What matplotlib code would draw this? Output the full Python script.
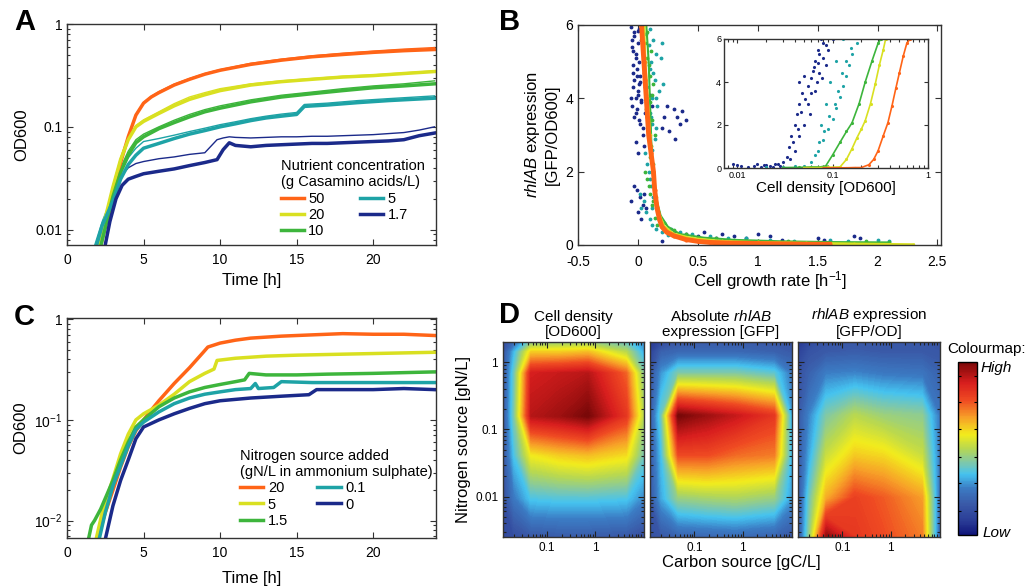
import numpy as np
import matplotlib
matplotlib.use("Agg")
import matplotlib.pyplot as plt
from matplotlib.colors import LinearSegmentedColormap
from matplotlib.ticker import NullFormatter, FixedLocator

plt.rcParams["font.family"] = ["Liberation Sans", "DejaVu Sans"]
plt.rcParams["mathtext.fontset"] = "custom"
plt.rcParams["mathtext.rm"] = "Liberation Sans"
plt.rcParams["mathtext.it"] = "Liberation Sans:italic"
plt.rcParams["axes.unicode_minus"] = False

ORANGE = "#ff6417"
YELLOW = "#d9e021"
GREEN = "#3db53c"
TEAL = "#1ea3a6"
NAVY = "#1b2a8a"

# ---------------- panel A: growth curves, casamino acids ----------------
a_labels = ["50", "20", "10", "5", "1.7"]
a_orange_t = [2.1, 2.5, 3.0, 3.5, 4.0, 4.5, 5.0, 5.5, 6, 7, 8, 9, 10, 12, 14, 16, 18, 20, 22, 24]
a_orange = [0.006, 0.011, 0.022, 0.045, 0.08, 0.13, 0.17, 0.195, 0.215, 0.255, 0.29, 0.325,
            0.355, 0.405, 0.445, 0.48, 0.505, 0.53, 0.55, 0.565]
a_orange_rep = [0.006, 0.011, 0.022, 0.046, 0.082, 0.132, 0.172, 0.198, 0.22, 0.26, 0.295, 0.33,
                0.36, 0.415, 0.455, 0.49, 0.52, 0.545, 0.57, 0.59]
a_yellow_t = [2.0, 2.5, 3.0, 3.5, 4.0, 4.5, 5, 6, 7, 8, 9, 10, 12, 14, 16, 18, 20, 22, 24]
a_yellow = [0.006, 0.013, 0.026, 0.048, 0.075, 0.1, 0.113, 0.135, 0.16, 0.185, 0.205, 0.225,
            0.255, 0.275, 0.29, 0.305, 0.315, 0.33, 0.345]
a_yellow_rep = [0.006, 0.013, 0.027, 0.05, 0.078, 0.103, 0.117, 0.14, 0.168, 0.195, 0.215, 0.235,
                0.262, 0.28, 0.295, 0.31, 0.32, 0.335, 0.35]
a_green_t = [2.1, 2.6, 3.0, 3.5, 4.0, 4.5, 5, 6, 7, 8, 9, 10, 12, 14, 16, 18, 20, 22, 24]
a_green = [0.006, 0.012, 0.021, 0.036, 0.053, 0.07, 0.08, 0.096, 0.11, 0.125, 0.14, 0.152,
           0.175, 0.195, 0.21, 0.225, 0.24, 0.25, 0.262]
a_green_rep = [0.006, 0.013, 0.023, 0.04, 0.058, 0.075, 0.085, 0.1, 0.116, 0.132, 0.147, 0.16,
               0.183, 0.203, 0.218, 0.235, 0.25, 0.262, 0.28]
a_teal_t = [1.8, 2.3, 3.0, 3.5, 4.0, 4.5, 5, 6, 7, 8, 9, 10, 11, 12, 13, 14, 15, 15.5, 17, 19, 21, 24]
a_teal = [0.006, 0.011, 0.019, 0.031, 0.043, 0.053, 0.062, 0.069, 0.077, 0.085, 0.092, 0.1,
          0.107, 0.115, 0.122, 0.127, 0.132, 0.158, 0.163, 0.172, 0.18, 0.19]
a_teal_rep = [0.007, 0.012, 0.022, 0.036, 0.05, 0.062, 0.072, 0.077, 0.083, 0.09, 0.097, 0.105,
              0.112, 0.12, 0.127, 0.133, 0.138, 0.165, 0.17, 0.18, 0.188, 0.2]
a_navy_t = [2.4, 2.8, 3.2, 3.6, 4.0, 4.5, 5, 6, 7, 8, 9, 9.8, 10.2, 10.6, 11, 12, 13, 14, 15,
            16, 17, 18, 19, 20, 21, 22, 23, 24]
a_navy = [0.006, 0.012, 0.02, 0.027, 0.031, 0.033, 0.035, 0.037, 0.039, 0.042, 0.045, 0.048,
          0.06, 0.07, 0.066, 0.064, 0.066, 0.067, 0.068, 0.069, 0.069, 0.07, 0.071, 0.072,
          0.073, 0.075, 0.082, 0.087]
a_navy_rep = [0.006, 0.013, 0.024, 0.034, 0.04, 0.044, 0.046, 0.049, 0.051, 0.054, 0.056, 0.075,
              0.078, 0.08, 0.079, 0.078, 0.079, 0.08, 0.08, 0.081, 0.081, 0.082, 0.083, 0.084,
              0.086, 0.088, 0.093, 0.1]

# ---------------- panel C: growth curves, nitrogen ----------------
c_labels = ["20", "5", "1.5", "0.1", "0"]
c_orange_t = [2.0, 2.5, 3, 3.5, 4, 4.5, 5, 5.5, 6, 7, 8, 8.9, 9.2, 10, 11, 12, 14, 16, 18, 20, 22, 24]
c_orange = [0.0065, 0.012, 0.02, 0.034, 0.054, 0.078, 0.1, 0.125, 0.155, 0.23, 0.33, 0.47,
            0.53, 0.58, 0.62, 0.65, 0.68, 0.7, 0.72, 0.71, 0.71, 0.69]
c_yellow_t = [1.9, 2.3, 3, 3.5, 4, 4.5, 5, 6, 7, 8, 9, 9.6, 9.8, 11, 13, 15, 18, 21, 24]
c_yellow = [0.0065, 0.012, 0.026, 0.046, 0.072, 0.1, 0.115, 0.14, 0.18, 0.24, 0.29, 0.32,
            0.39, 0.41, 0.43, 0.44, 0.45, 0.46, 0.47]
c_green_t = [1.4, 1.6, 1.8, 2.2, 2.6, 3, 3.5, 4, 4.5, 5, 6, 7, 8, 9, 10, 11, 11.6, 11.9, 13,
             15, 17, 20, 22, 24]
c_green = [0.0065, 0.009, 0.01, 0.013, 0.018, 0.025, 0.04, 0.06, 0.085, 0.1, 0.135, 0.165,
           0.19, 0.21, 0.225, 0.24, 0.25, 0.29, 0.28, 0.28, 0.285, 0.29, 0.295, 0.3]
c_teal_t = [2.1, 2.5, 3, 3.5, 4, 4.5, 5, 6, 7, 8, 9, 10, 11, 12, 12.3, 12.5, 13.5, 14, 16, 18, 20, 24]
c_teal = [0.0065, 0.012, 0.022, 0.035, 0.055, 0.08, 0.095, 0.12, 0.145, 0.165, 0.18, 0.19,
          0.2, 0.205, 0.23, 0.205, 0.21, 0.24, 0.235, 0.235, 0.235, 0.235]
c_navy_t = [2.5, 3, 3.5, 4, 4.5, 5, 6, 7, 8, 9, 10, 12, 14, 15.8, 16.3, 18, 20, 22, 24]
c_navy = [0.0065, 0.014, 0.025, 0.04, 0.065, 0.085, 0.1, 0.115, 0.13, 0.145, 0.155, 0.165,
          0.172, 0.178, 0.2, 0.2, 0.2, 0.205, 0.2]

# ---------------- panel B: rhlAB vs growth rate ----------------
b_orange_x = [0.03, 0.04, 0.05, 0.06, 0.07, 0.08, 0.09, 0.11, 0.13, 0.14, 0.16, 0.18, 0.2,
              0.24, 0.3, 0.4, 0.5, 0.6, 0.8, 1.0, 1.2, 1.4, 1.6]
b_orange_y = [6.0, 5.5, 5.0, 4.5, 4.0, 3.5, 3.0, 2.5, 2.0, 1.5, 1.0, 0.7, 0.5, 0.35, 0.25,
              0.15, 0.1, 0.07, 0.05, 0.04, 0.03, 0.02, 0.02]
b_yellow_x = [0.05, 0.06, 0.08, 0.1, 0.13, 0.15, 0.18, 0.22, 0.3, 0.45, 0.7, 1.0, 1.4, 1.8, 2.3]
b_yellow_y = [6.0, 5.0, 4.0, 3.0, 2.0, 1.3, 0.8, 0.5, 0.3, 0.18, 0.1, 0.07, 0.05, 0.03, 0.01]
b_green_x = [0.07, 0.09, 0.1, 0.11, 0.12, 0.15, 0.19, 0.25, 0.35, 0.55, 0.8, 1.2, 1.6, 2.1]
b_green_y = [6.0, 5.0, 4.0, 3.0, 2.0, 1.3, 0.8, 0.5, 0.3, 0.2, 0.14, 0.1, 0.08, 0.07]
b_green_dots_x = [0.08, 0.11, 0.09, 0.13, 0.1, 0.12, 0.14, 0.1, 0.06, 0.09, 0.13, 0.17, 0.22,
                  0.3, 0.4, 0.5, 0.65, 0.8, 1.0, 1.25, 1.5, 1.9, 2.1, 0.06, 0.08, 0.1, 0.12,
                  0.07, 0.09, 0.11, 0.13, 0.08, 0.1, 0.12, 0.14, 0.16]
b_green_dots_y = [5.8, 5.3, 4.9, 4.4, 3.9, 3.4, 3.0, 2.4, 2.0, 1.6, 1.2, 0.9, 0.6, 0.4, 0.3,
                  0.22, 0.18, 0.15, 0.12, 0.1, 0.08, 0.1, 0.08, 5.5, 5.1, 4.6, 4.1, 3.7, 3.2,
                  2.7, 2.2, 1.8, 1.4, 1.1, 0.75, 0.55]
b_teal_x = [0.1, 0.13, 0.2, 0.15, 0.1, 0.14, 0.18, 0.12, 0.16, 0.11, 0.15, 0.09, 0.12, 0.08,
            0.1, 0.02, 0.05, 0.03, 0.12, 0.18, 0.22, 0.28, 0.35, 0.45, 0.6, 0.75, 0.9, 1.1,
            1.3, 1.6, 1.75, 2.0, 2.1, 0.19, 0.21, 0.07, 0.09, 0.11, 0.13, 0.15, 0.08, 0.1,
            0.12, 0.14, 0.06, 0.09, 0.11, 0.13, 0.07, 0.1, 0.12, 0.15, 0.2, 0.25, 0.22]
b_teal_y = [5.9, 5.6, 5.5, 5.2, 4.8, 4.5, 4.2, 4.0, 3.8, 3.5, 3.2, 3.0, 2.6, 2.2, 1.8, 1.4,
            1.2, 1.0, 1.0, 0.8, 0.6, 0.45, 0.35, 0.3, 0.25, 0.2, 0.18, 0.15, 0.12, 0.15, 0.12,
            0.15, 0.1, 5.1, 4.4, 5.75, 5.45, 5.0, 4.7, 4.0, 4.3, 3.6, 3.3, 2.9, 2.5, 2.0, 1.6,
            1.3, 0.9, 0.7, 0.55, 0.45, 0.35, 0.28, 0.42]
b_navy_x = [-0.05, -0.04, -0.03, -0.02, -0.01, 0.0, 0.01, 0.02, -0.04, -0.02, 0.0, 0.03,
            -0.05, -0.03, -0.01, 0.02, 0.04, -0.02, 0.0, 0.05, 0.06, -0.01, 0.02, 0.04, 0.07,
            0.2, 0.24, 0.3, 0.33, 0.35, 0.37, 0.4, 0.31, 0.26, 0.22, -0.06, -0.03, 0.0, 0.03,
            0.05, -0.04, 0.01, 0.06, 0.1, 0.12, 0.25, 0.3, 0.4, 0.5, 0.55, 0.65, 0.7, 0.8,
            0.9, 1.0, 1.1, 1.2, 1.5, 1.55, 1.8, 1.85, 0.2, -0.06, -0.03, 0.0, 0.03, -0.05,
            -0.02, 0.01, 0.04, -0.04, -0.01, 0.02, 0.05, -0.03, 0.0, 0.03, 0.06, -0.02, 0.01,
            0.04, -0.06]
b_navy_y = [5.6, 5.3, 5.8, 5.1, 4.8, 5.5, 5.9, 4.6, 4.3, 4.0, 4.2, 3.9, 3.8, 3.5, 3.7, 3.3,
            3.0, 2.8, 2.5, 2.7, 3.6, 1.5, 1.3, 1.1, 1.0, 3.2, 3.8, 3.7, 3.5, 3.3, 3.65, 3.4,
            2.9, 3.1, 3.5, 1.2, 1.6, 0.9, 0.7, 1.4, 4.7, 4.4, 5.0, 4.1, 3.8, 0.4, 0.35, 0.3,
            0.25, 0.35, 0.2, 0.3, 0.25, 0.2, 0.3, 0.25, 0.15, 0.2, 0.15, 0.25, 0.2, 0.1, 5.95,
            5.7, 5.85, 5.6, 5.4, 5.2, 5.0, 5.3, 4.9, 4.6, 4.45, 4.7, 4.5, 4.1, 3.95, 4.3, 3.6,
            3.4, 3.2, 4.0]

# inset: rhlAB vs cell density
i_navy_x = [0.009, 0.01, 0.011, 0.013, 0.015, 0.018, 0.02, 0.022, 0.025, 0.028, 0.03, 0.033,
            0.035, 0.037, 0.04, 0.042, 0.045, 0.048, 0.045, 0.05, 0.055, 0.06, 0.062, 0.065,
            0.07, 0.075, 0.08, 0.068, 0.058, 0.05, 0.045, 0.04, 0.09, 0.1, 0.085, 0.078,
            0.036, 0.039, 0.043, 0.047, 0.052, 0.056, 0.06, 0.064, 0.07, 0.073, 0.066,
            0.072, 0.079, 0.086, 0.016, 0.019, 0.024, 0.027]
i_navy_y = [0.2, 0.15, 0.1, 0.05, 0.1, 0.05, 0.15, 0.1, 0.2, 0.1, 0.3, 0.5, 1.0, 1.5, 2.0,
            2.5, 3.0, 3.5, 4.0, 4.3, 3.0, 3.5, 4.5, 5.0, 5.5, 6.0, 5.8, 4.0, 2.5, 2.0, 1.5,
            0.8, 5.5, 6.0, 4.8, 4.2, 0.4, 1.2, 1.8, 2.6, 3.2, 3.8, 4.2, 4.7, 4.9, 5.3, 3.6,
            4.4, 5.1, 5.7, 0.2, 0.12, 0.05, 0.18]
i_teal_x = [0.02, 0.03, 0.04, 0.05, 0.06, 0.07, 0.08, 0.09, 0.1, 0.11, 0.12, 0.13, 0.14,
            0.15, 0.16, 0.18, 0.075, 0.085, 0.095, 0.11, 0.13, 0.065, 0.072, 0.082, 0.092,
            0.105, 0.115, 0.125, 0.14, 0.155]
i_teal_y = [0.05, 0.05, 0.1, 0.1, 0.3, 0.8, 1.3, 1.8, 2.3, 2.8, 3.3, 3.8, 4.3, 4.8, 5.3, 5.8,
            2.0, 3.0, 4.0, 5.0, 6.0, 0.6, 1.2, 1.7, 2.4, 3.0, 3.6, 4.4, 5.0, 5.6]
i_green_x = [0.03, 0.045, 0.06, 0.075, 0.085, 0.1, 0.12, 0.14, 0.16, 0.19, 0.22, 0.26, 0.3, 0.32]
i_green_y = [0.02, 0.03, 0.05, 0.05, 0.1, 0.6, 1.2, 1.7, 2.1, 3.0, 4.0, 5.0, 5.8, 6.0]
i_yellow_x = [0.05, 0.07, 0.09, 0.12, 0.14, 0.16, 0.18, 0.2, 0.22, 0.25, 0.28, 0.31, 0.34, 0.36]
i_yellow_y = [0.02, 0.02, 0.03, 0.05, 0.4, 0.9, 1.4, 1.8, 2.2, 3.0, 3.9, 4.8, 5.5, 6.0]
i_orange_x = [0.08, 0.11, 0.14, 0.17, 0.2, 0.24, 0.27, 0.3, 0.34, 0.38, 0.42, 0.46, 0.5,
              0.55, 0.6, 0.65]
i_orange_y = [0.01, 0.01, 0.01, 0.02, 0.02, 0.15, 0.4, 0.8, 1.5, 2.1, 2.9, 3.7, 4.4, 5.2,
              5.8, 6.0]

# ---------------- panel D: carbon x nitrogen maps (relative 0..1) ----------------
carbon = [0.012, 0.021, 0.047, 0.18, 0.7, 4.4, 10.5]
nitrogen = [0.0025, 0.0095, 0.042, 0.16, 0.68, 1.4, 2.0]
d_density = [
    [0.12, 0.14, 0.17, 0.18, 0.18, 0.17, 0.14],
    [0.14, 0.26, 0.36, 0.37, 0.37, 0.36, 0.28],
    [0.15, 0.36, 0.58, 0.62, 0.64, 0.60, 0.40],
    [0.15, 0.42, 0.92, 0.95, 1.00, 0.82, 0.48],
    [0.15, 0.40, 0.88, 0.90, 0.92, 0.75, 0.42],
    [0.15, 0.34, 0.62, 0.62, 0.64, 0.50, 0.32],
    [0.13, 0.22, 0.42, 0.44, 0.45, 0.38, 0.28],
]
d_gfp = [
    [0.15, 0.17, 0.20, 0.21, 0.22, 0.20, 0.17],
    [0.16, 0.32, 0.45, 0.47, 0.48, 0.45, 0.30],
    [0.17, 0.35, 0.78, 0.78, 0.74, 0.72, 0.32],
    [0.17, 0.40, 1.00, 0.95, 0.90, 0.82, 0.30],
    [0.15, 0.30, 0.42, 0.42, 0.42, 0.38, 0.25],
    [0.10, 0.20, 0.22, 0.22, 0.22, 0.20, 0.18],
    [0.06, 0.12, 0.17, 0.18, 0.18, 0.17, 0.16],
]
d_gfp_od = [
    [0.15, 0.45, 0.97, 0.82, 0.78, 0.72, 0.20],
    [0.15, 0.40, 0.66, 0.80, 0.76, 0.68, 0.22],
    [0.16, 0.32, 0.52, 0.62, 0.60, 0.52, 0.25],
    [0.17, 0.28, 0.42, 0.50, 0.46, 0.44, 0.25],
    [0.15, 0.20, 0.27, 0.28, 0.26, 0.25, 0.20],
    [0.10, 0.16, 0.18, 0.19, 0.18, 0.18, 0.17],
    [0.06, 0.12, 0.16, 0.17, 0.17, 0.17, 0.16],
]

cmap = LinearSegmentedColormap.from_list("jetlike", [
    (0.0, "#10157a"), (0.08, "#2a3c96"), (0.18, "#3a5aa8"), (0.27, "#3b7cc4"),
    (0.35, "#45c3f0"), (0.42, "#80c8a8"), (0.5, "#b8d850"), (0.58, "#f2ec1c"),
    (0.68, "#f7a028"), (0.78, "#ef4a22"), (0.88, "#d81e1e"), (1.0, "#7a0808")])


def style(ax, size=10):
    ax.tick_params(which="both", direction="in", top=True, right=True,
                   labelsize=size, width=0.8, color="#333333")
    ax.tick_params(which="major", length=4)
    ax.tick_params(which="minor", length=2)
    for s in ax.spines.values():
        s.set_linewidth(1.0)
        s.set_color("#333333")


W, H = 1030, 587


def box(left, top, right, bottom):
    return [left / W, 1 - bottom / H, (right - left) / W, (bottom - top) / H]


fig = plt.figure(figsize=(W / 100, H / 100), dpi=100)

# ---- A ----
axA = fig.add_axes(box(67, 24, 436, 245))
a_series = [(a_orange_t, a_orange, a_orange_rep, ORANGE),
            (a_yellow_t, a_yellow, a_yellow_rep, YELLOW),
            (a_green_t, a_green, a_green_rep, GREEN),
            (a_teal_t, a_teal, a_teal_rep, TEAL),
            (a_navy_t, a_navy, a_navy_rep, NAVY)]
for (t, v, rep, col), lab in zip(a_series, a_labels):
    axA.plot(t, rep, color=col, lw=1.0)
for (t, v, rep, col), lab in zip(a_series, a_labels):
    axA.plot(t, v, color=col, lw=2.5, label=lab)
axA.set_yscale("log")
axA.set_ylim(0.0071, 1.0)
axA.set_xlim(0, 24.1)
axA.set_xticks([0, 5, 10, 15, 20])
axA.set_yticks([0.01, 0.1, 1])
axA.set_yticklabels(["0.01", "0.1", "1"])
axA.yaxis.set_minor_formatter(NullFormatter())
style(axA)
axA.tick_params(axis="x", pad=6)
axA.set_xlabel("Time [h]", fontsize=12, labelpad=4)
axA.set_ylabel("OD600", fontsize=12, labelpad=4)
axA.legend(title="Nutrient concentration\n(g Casamino acids/L)", ncol=2, frameon=False,
           loc="lower left", bbox_to_anchor=(0.575, 0.025), fontsize=10.5,
           title_fontsize=10.5, alignment="left", handlelength=1.6, handletextpad=0.3,
           columnspacing=2.4, labelspacing=0.15, borderpad=0.1, borderaxespad=0)

# ---- B ----
axB = fig.add_axes(box(578, 25, 941, 245))
axB.plot(b_navy_x, b_navy_y, ".", color=NAVY, ms=3.5)
axB.plot(b_teal_x, b_teal_y, ".", color=TEAL, ms=3.5)
axB.plot(b_green_x, b_green_y, "-", color=GREEN, lw=1.5)
axB.plot(b_green_dots_x, b_green_dots_y, ".", color=GREEN, ms=3.5)
axB.plot(b_yellow_x, b_yellow_y, "-", color=YELLOW, lw=2.0, marker=".", ms=3.5)
axB.plot(b_orange_x, b_orange_y, "-", color=ORANGE, lw=3.5, marker=".", ms=4)
axB.set_xlim(-0.5, 2.53)
axB.set_ylim(0, 6)
axB.set_xticks([-0.5, 0, 0.5, 1, 1.5, 2, 2.5])
axB.set_xticklabels(["-0.5", "0", "0.5", "1", "1.5", "2", "2.5"])
axB.set_yticks([0, 2, 4, 6])
style(axB)
axB.tick_params(axis="x", pad=7)
axB.set_xlabel("Cell growth rate [h$^{-1}$]", fontsize=12)
axB.xaxis.set_label_coords(0.53, -0.11)
axB.set_ylabel("$\\it{rhlAB}$ expression\n[GFP/OD600]", fontsize=12, labelpad=4)

axI = fig.add_axes(box(724, 39, 928, 168))
for xs, ys, col in [(i_navy_x, i_navy_y, NAVY), (i_teal_x, i_teal_y, TEAL),
                    (i_green_x, i_green_y, GREEN), (i_yellow_x, i_yellow_y, YELLOW),
                    (i_orange_x, i_orange_y, ORANGE)]:
    axI.plot(xs, ys, ".", color=col, ms=2.5)
for xs, ys, col in [(i_green_x, i_green_y, GREEN), (i_yellow_x, i_yellow_y, YELLOW),
                    (i_orange_x, i_orange_y, ORANGE)]:
    axI.plot(xs, ys, "-", color=col, lw=1.2)
axI.set_xscale("log")
axI.set_xlim(0.0073, 1.0)
axI.set_ylim(0, 6)
axI.set_xticks([0.01, 0.1, 1])
axI.set_xticklabels(["0.01", "0.1", "1"])
axI.xaxis.set_minor_formatter(NullFormatter())
axI.set_yticks([0, 2, 4, 6])
style(axI, size=6.5)
axI.tick_params(which="major", length=3, pad=2)
axI.set_xlabel("Cell density [OD600]", fontsize=11, labelpad=1)

# ---- C ----
axC = fig.add_axes(box(67, 318, 436, 538))
c_series = [(c_orange_t, c_orange, ORANGE), (c_yellow_t, c_yellow, YELLOW),
            (c_green_t, c_green, GREEN), (c_teal_t, c_teal, TEAL), (c_navy_t, c_navy, NAVY)]
for (t, v, col), lab in zip(c_series, c_labels):
    axC.plot(t, v, color=col, lw=2.5, label=lab)
axC.set_yscale("log")
axC.set_ylim(0.0067, 1.03)
axC.set_xlim(0, 24.1)
axC.set_xticks([0, 5, 10, 15, 20])
axC.set_yticks([0.01, 0.1, 1])
axC.set_yticklabels(["$10^{-2}$", "$10^{-1}$", "1"])
axC.yaxis.set_minor_formatter(NullFormatter())
style(axC)
axC.tick_params(axis="x", pad=6)
axC.set_xlabel("Time [h]", fontsize=12, labelpad=8)
axC.set_ylabel("OD600", fontsize=12, labelpad=4)
axC.legend(title="Nitrogen source added\n(gN/L in ammonium sulphate)", ncol=2, frameon=False,
           loc="lower left", bbox_to_anchor=(0.465, 0.04), fontsize=10.5,
           title_fontsize=10.5, alignment="left", handlelength=1.6, handletextpad=0.3,
           columnspacing=2.0, labelspacing=0.15, borderpad=0.1, borderaxespad=0)

# ---- D ---- (drawn in log10 coordinates so the filled levels follow the log grid)
logC = np.log10(carbon)
logN = np.log10(nitrogen)
CX, NY = np.meshgrid(logC, logN)
minor_c = np.log10([0.02, 0.03, 0.04, 0.05, 0.06, 0.07, 0.08, 0.09, 0.2, 0.3, 0.4, 0.5,
                    0.6, 0.7, 0.8, 0.9, 2, 3, 4, 5, 6, 7, 8, 9])
minor_n = np.log10([0.003, 0.004, 0.005, 0.006, 0.007, 0.008, 0.009, 0.02, 0.03, 0.04,
                    0.05, 0.06, 0.07, 0.08, 0.09, 0.2, 0.3, 0.4, 0.5, 0.6, 0.7, 0.8, 0.9])
levels = np.linspace(0, 1, 201)
d_maps = [(d_density, "Cell density\n[OD600]", 503, 644),
          (d_gfp, "Absolute $\\it{rhlAB}$\nexpression [GFP]", 650, 792),
          (d_gfp_od, "$\\it{rhlAB}$ expression\n[GFP/OD]", 798, 940)]
mesh = None
for i, (z, title, l, r) in enumerate(d_maps):
    ax = fig.add_axes(box(l, 342, r, 537))
    mesh = ax.contourf(CX, NY, np.array(z), levels=levels, cmap=cmap, vmin=0, vmax=1)
    mesh.set_edgecolor("face")
    mesh.set_linewidth(0.6)
    ax.set_xlim(logC[0], logC[-1])
    ax.set_ylim(logN[0], logN[-1])
    ax.set_xticks([-1, 0])
    ax.set_xticklabels(["0.1", "1"])
    ax.xaxis.set_minor_locator(FixedLocator(minor_c))
    ax.yaxis.set_minor_locator(FixedLocator(minor_n))
    ax.set_yticks([-2, -1, 0])
    style(ax, size=8.5)
    ax.tick_params(which="both", color="#222222")
    if i == 0:
        ax.set_yticklabels(["0.01", "0.1", "1"])
        ax.set_ylabel("Nitrogen source [gN/L]", fontsize=12, labelpad=3)
    else:
        ax.set_yticklabels([])
    ax.set_title(title, fontsize=11, pad=4, linespacing=1.1)

cax = fig.add_axes(box(958, 362, 977, 535))
cb = fig.colorbar(mesh, cax=cax, ticks=[0.14, 0.3, 0.45, 0.61, 0.77, 0.92])
cax.tick_params(direction="in", left=True, right=True, labelleft=False, labelright=False,
                length=2.5, width=0.8)
cb.outline.set_linewidth(1.0)
fig.text(947 / W, 1 - 349 / H, "Colourmap:", fontsize=11, ha="left", va="center")
fig.text(981 / W, 1 - 368 / H, "High", fontsize=11, style="italic", ha="left", va="center")
fig.text(983 / W, 1 - 533 / H, "Low", fontsize=11, style="italic", ha="left", va="center")
fig.text(741 / W, 1 - 563 / H, "Carbon source [gC/L]", fontsize=12, ha="center", va="center")

# panel letters
for letter, x, y in [("A", 14, 8), ("B", 499, 8), ("C", 14, 303), ("D", 499, 301)]:
    fig.text(x / W, 1 - y / H, letter, fontsize=21, fontweight="bold", ha="left", va="top")

fig.savefig("out.png", dpi=100)
